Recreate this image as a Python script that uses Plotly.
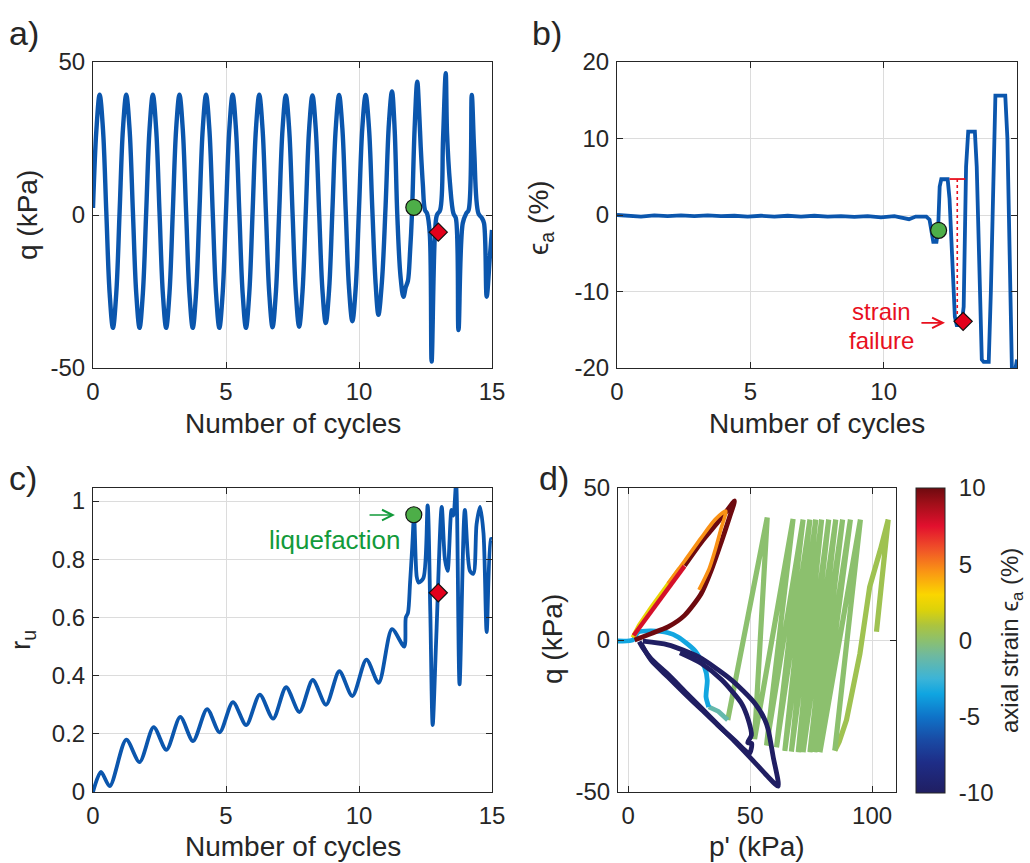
import plotly.graph_objects as go
from plotly.colors import sample_colorscale

FONT = "Liberation Sans, Arial, Helvetica, sans-serif"
INK = "#262626"
GRID = "#dcdcdc"
BLUE = "#0b56ad"
RED = "#e8101e"
GREEN_TXT = "#129a3a"
GREEN_DOT = "#4dae48"
RED_DOT = "#e3001b"

W, H = 1030, 863

# ---------------- a) deviator stress q vs number of cycles
cycles_q = [
    0.0, 0.125, 0.25, 0.375, 0.5, 0.625, 0.75, 0.875,
    1.0, 1.125, 1.25, 1.375, 1.5, 1.625, 1.75, 1.875,
    2.0, 2.125, 2.25, 2.375, 2.5, 2.625, 2.75, 2.875,
    3.0, 3.125, 3.25, 3.375, 3.5, 3.625, 3.75, 3.875,
    4.0, 4.125, 4.25, 4.375, 4.5, 4.625, 4.75, 4.875,
    5.0, 5.125, 5.25, 5.375, 5.5, 5.625, 5.75, 5.875,
    6.0, 6.125, 6.25, 6.375, 6.5, 6.625, 6.75, 6.875,
    7.0, 7.125, 7.25, 7.375, 7.5, 7.625, 7.75, 7.875,
    8.0, 8.125, 8.25, 8.375, 8.5, 8.625, 8.75, 8.875,
    9.0, 9.125, 9.25, 9.375, 9.5, 9.625, 9.75, 9.875,
    10.0, 10.125, 10.25, 10.375, 10.5, 10.625, 10.73, 10.86,
    11.0, 11.125, 11.24, 11.34, 11.44, 11.56, 11.67, 11.76, 11.84, 11.92,
    11.99, 12.09, 12.19, 12.27, 12.32, 12.40, 12.48, 12.56,
    12.66, 12.73, 12.85, 12.93, 13.05, 13.16, 13.26, 13.31, 13.42, 13.55,
    13.64, 13.74, 13.9, 14.03, 14.12, 14.24, 14.33, 14.49, 14.62,
    14.7, 14.8, 14.92, 15.0]
q_kpa = [
    2.3, 27.5, 39.3, 28.0, 1.0, -25.5, -36.9, -25.5,
    1.0, 28.0, 39.3, 28.0, 1.0, -25.5, -36.9, -25.5,
    1.0, 28.0, 39.3, 28.0, 1.0, -25.5, -36.9, -25.5,
    1.0, 28.0, 39.3, 28.0, 1.0, -25.5, -36.9, -25.5,
    1.0, 28.0, 39.3, 28.0, 1.0, -25.5, -36.9, -25.5,
    1.0, 28.0, 39.3, 28.0, 1.0, -25.5, -36.9, -25.5,
    1.0, 28.0, 39.3, 28.0, 1.0, -25.5, -36.7, -25.4,
    1.0, 28.0, 39.1, 28.0, 1.0, -25.3, -36.5, -25.2,
    1.0, 28.0, 39.1, 28.0, 1.2, -24.5, -35.3, -24.5,
    1.5, 28.2, 39.2, 28.2, 1.5, -24.0, -34.7, -24.0,
    2.0, 28.5, 39.2, 28.5, 2.0, -22.5, -32.6, -22.0,
    3.0, 30.0, 40.4, 28.0, 0.0, -20.0, -26.7, -23.5, -21.5, -12.0,
    0.0, 28.0, 43.6, 32.1, 22.3, 10.0, 1.6, 0.5,
    -6.0, -47.9, -7.1, 0.0, 1.6, 25.0, 46.3, 26.7, 10.4, 0.5,
    -1.0, -37.6, -2.7, 0.5, 1.6, 39.2, 21.2, 0.5, -1.0,
    -2.7, -26.7, -13.6, -4.9]

# ---------------- b) axial strain vs number of cycles
cycles_eps = [0.0, 0.45, 0.9, 1.4, 1.9, 2.4, 2.9, 3.4, 3.9, 4.4, 4.9, 5.4, 5.9,
              6.4, 6.9, 7.4, 7.9, 8.4, 8.9, 9.4, 9.9, 10.4, 10.8, 10.95, 11.2,
              11.6, 11.72, 11.8, 11.86, 11.98, 12.04, 12.1, 12.16, 12.4, 12.47,
              12.67, 12.74, 12.92, 13.0, 13.09, 13.17, 13.42, 13.49, 13.68,
              13.75, 13.94, 14.02, 14.19, 14.56, 14.64, 14.81, 14.93, 15.0]
eps_a = [0.0, -0.05, -0.2, -0.05, -0.15, -0.05, -0.15, -0.05, -0.15, -0.1,
         -0.2, -0.1, -0.2, -0.1, -0.2, -0.1, -0.2, -0.15, -0.25, -0.15, -0.3,
         -0.15, -0.5, -0.55, -0.2, -0.2, -0.6, -2.5, -3.5, -3.5, -2.0, 3.7,
         4.67, 4.67, 2.1, -13.3, -14.4, -14.4, -12.0, 6.3, 10.9, 10.9, 6.3,
         -18.9, -19.2, -19.2, -10.0, 15.6, 15.6, 10.0, -20.3, -20.3, -18.9]

# strain-failure reference lines
fail_top_cycles = [12.47, 13.06]
fail_top_eps = [4.7, 4.7]
fail_drop_cycles = [12.76, 12.76]
fail_drop_eps = [4.7, -13.2]

# ---------------- c) excess pore pressure ratio vs number of cycles
cycles_ru = [0.0, 0.3, 0.63, 1.25, 1.75, 2.28, 2.76, 3.28, 3.76, 4.29, 4.76,
             5.26, 5.76, 6.27, 6.77, 7.26, 7.76, 8.26, 8.76, 9.26, 9.75, 10.28,
             10.74, 11.24, 11.7, 11.76, 11.84, 11.92, 12.0, 12.07, 12.17, 12.24,
             12.42, 12.58, 12.68, 12.77, 12.9, 13.11, 13.23, 13.33, 13.48,
             13.55, 13.65, 13.78, 13.98, 14.17, 14.3, 14.42, 14.55, 14.68,
             14.8, 14.96, 15.0]
r_u = [0.0, 0.069, 0.02, 0.18, 0.103, 0.223, 0.145, 0.258, 0.175, 0.285,
       0.205, 0.309, 0.23, 0.335, 0.252, 0.36, 0.275, 0.385, 0.30, 0.415,
       0.33, 0.455, 0.375, 0.56, 0.50, 0.60, 0.615, 0.72, 0.84, 0.95, 0.74,
       0.72, 0.735, 0.985, 0.62, 0.23, 0.52, 0.98, 0.80, 0.76, 0.97, 0.95,
       1.06, 0.37, 0.97, 0.76, 0.75, 0.92, 0.98, 0.89, 0.55, 0.87, 0.87]

# event markers: liquefaction (circle) and strain failure (diamond)
liq_cycle = [12.06]
fail_cycle = [12.98]
liq_q, fail_q = [2.5], [-5.6]
liq_eps, fail_eps = [-2.0], [-13.9]
liq_ru, fail_ru = [0.953], [0.685]

# ---------------- d) effective stress path, coloured by axial strain (%)
p_start = [101.8, 106.6, 103.5, 99.0, 95.0, 89.5, 86.5, 84.7]
q_start = [2.7, 39.6, 30.0, 17.4, -4.5, -26.3, -33.5, -36.4]
eps_start = 0.6

p_cyclic = [84.7, 95.2, 78.6, 91.1, 76.5, 87.9, 74.5, 85.1, 71.7, 82.2, 69.7,
            79.3, 66.9, 76.9, 64.2, 74.5, 60.8, 71.7, 56.7, 67.6, 51.8, 57.0,
            40.8]
q_cyclic = [-36.4, 39.6, -36.9, 39.6, -36.9, 39.6, -36.9, 39.6, -36.9, 39.6,
            -36.9, 39.6, -36.7, 39.6, -36.5, 39.6, -35.3, 39.6, -34.7, 39.8,
            -32.6, 40.3, -26.3]
eps_cyclic = 0.0

p_teal = [40.8, 37.0, 33.0]
q_teal = [-26.3, -23.5, -22.0]
eps_teal = -1.3

p_cyan = [33.0, 31.9, 32.4, 31.3, 27.2, 20.4, 16.3, 9.4, 4.0, 1.9, -5.0]
q_cyan = [-22.0, -18.7, -13.2, -8.9, -3.4, 1.0, 2.4, 3.0, 2.6, 0.0, -0.3]
eps_cyan = -3.4

p_yellow = [1.9, 4.5, 9.4, 16.3, 21.0]
q_yellow = [0.8, 4.8, 10.6, 18.4, 23.4]
eps_yellow = 2.4

p_orange = [16.3, 23.1, 29.9, 35.6, 40.0, 38.0, 35.8, 33.2, 29.0]
q_orange = [18.6, 26.0, 33.6, 39.6, 42.4, 36.5, 30.0, 23.5, 16.5]
eps_orange = 4.6

p_navy_outer = [4.5, 6.0, 9.4, 16.3, 23.1, 29.9, 36.7, 43.6, 50.4, 57.2, 61.5,
                59.4, 57.4, 56.0, 51.9, 42.3, 28.7, 16.3, 6.0]
q_navy_outer = [-0.5, -2.6, -6.2, -11.3, -16.8, -22.3, -27.8, -33.3, -39.0,
                -44.9, -48.1, -38.3, -29.5, -26.2, -20.8, -13.1, -5.5, -1.6, -0.4]
eps_navy_outer = -14.5

p_navy_inner = [5.3, 9.4, 16.3, 23.1, 29.9, 36.7, 43.6, 49.7, 50.6, 49.0, 50.5,
                49.2, 46.4, 38.3, 30.0, 21.2]
q_navy_inner = [-1.2, -6.7, -12.2, -17.6, -22.8, -28.0, -33.0, -37.3, -34.0,
                -33.8, -31.3, -26.2, -20.8, -13.1, -7.7, -4.2]
eps_navy_inner = -19.0

p_darkred = [2.6, 9.4, 16.3, 23.1, 29.9, 34.0, 38.1, 41.5, 43.6, 40.0, 36.7,
             29.9, 23.1]
q_darkred = [0.0, 2.1, 4.3, 8.1, 15.2, 22.8, 32.1, 40.3, 45.8, 42.0, 38.7,
             32.1, 24.5]
eps_darkred = 11.0

p_red = [2.2, 9.4, 16.3, 23.1]
q_red = [1.5, 9.5, 17.2, 24.3]
eps_red = 7.8

STRAIN_SCALE = [
    [0.000, "rgb(32,30,98)"],
    [0.100, "rgb(30,45,135)"],
    [0.175, "rgb(25,75,165)"],
    [0.250, "rgb(15,115,200)"],
    [0.325, "rgb(15,165,225)"],
    [0.375, "rgb(60,180,215)"],
    [0.450, "rgb(110,185,160)"],
    [0.500, "rgb(140,192,110)"],
    [0.550, "rgb(172,196,62)"],
    [0.600, "rgb(220,210,10)"],
    [0.650, "rgb(250,214,0)"],
    [0.725, "rgb(250,150,20)"],
    [0.800, "rgb(240,82,40)"],
    [0.875, "rgb(226,16,46)"],
    [0.950, "rgb(160,15,25)"],
    [1.000, "rgb(110,10,15)"],
]
CMIN, CMAX = -10.0, 10.0


def strain_colour(e):
    f = (e - CMIN) / (CMAX - CMIN)
    f = min(max(f, 0.0), 1.0)
    return sample_colorscale(STRAIN_SCALE, [f])[0]


def dot(x, y, xa, ya, symbol, size, color):
    return go.Scatter(x=x, y=y, mode="markers", xaxis=xa, yaxis=ya,
                      marker=dict(symbol=symbol, size=size, color=color,
                                  line=dict(color="#111", width=1.2)))


fig = go.Figure()

# a)
fig.add_trace(go.Scatter(x=cycles_q, y=q_kpa, mode="lines",
                         line=dict(color=BLUE, width=4.4, shape="spline", smoothing=1.0),
                         xaxis="x", yaxis="y"))
fig.add_trace(dot(liq_cycle, liq_q, "x", "y", "circle", 16, GREEN_DOT))
fig.add_trace(dot(fail_cycle, fail_q, "x", "y", "diamond", 14, RED_DOT))

# b)
fig.add_trace(go.Scatter(x=cycles_eps, y=eps_a, mode="lines",
                         line=dict(color=BLUE, width=3.8),
                         xaxis="x2", yaxis="y2"))
fig.add_trace(go.Scatter(x=fail_top_cycles, y=fail_top_eps, mode="lines",
                         line=dict(color=RED, width=1.8), xaxis="x2", yaxis="y2"))
fig.add_trace(go.Scatter(x=fail_drop_cycles, y=fail_drop_eps, mode="lines",
                         line=dict(color=RED, width=1.6, dash="dot"),
                         xaxis="x2", yaxis="y2"))
fig.add_trace(dot(liq_cycle, liq_eps, "x2", "y2", "circle", 16, GREEN_DOT))
fig.add_trace(dot(fail_cycle, fail_eps, "x2", "y2", "diamond", 14, RED_DOT))

# c)
fig.add_trace(go.Scatter(x=cycles_ru, y=r_u, mode="lines",
                         line=dict(color=BLUE, width=3.8, shape="spline", smoothing=0.8),
                         xaxis="x3", yaxis="y3"))
fig.add_trace(dot(liq_cycle, liq_ru, "x3", "y3", "circle", 16, GREEN_DOT))
fig.add_trace(dot(fail_cycle, fail_ru, "x3", "y3", "diamond", 14, RED_DOT))

# d) stress path pieces, drawn in time order
paths = [
    (p_start, q_start, eps_start, "linear", 5.2),
    (p_cyclic, q_cyclic, eps_cyclic, "linear", 5.2),
    (p_teal, q_teal, eps_teal, "linear", 4.8),
    (p_cyan, q_cyan, eps_cyan, "spline", 4.8),
    (p_yellow, q_yellow, eps_yellow, "linear", 4.8),
    (p_navy_outer, q_navy_outer, eps_navy_outer, "spline", 4.8),
    (p_navy_inner, q_navy_inner, eps_navy_inner, "spline", 4.8),
    (p_darkred, q_darkred, eps_darkred, "spline", 4.8),
    (p_orange, q_orange, eps_orange, "spline", 3.6),
    (p_red, q_red, eps_red, "linear", 4.4),
]
for px_, qy_, e_, shp, wd in paths:
    fig.add_trace(go.Scatter(x=px_, y=qy_, mode="lines",
                             line=dict(color=strain_colour(e_), width=wd, shape=shp,
                                       smoothing=0.7),
                             xaxis="x4", yaxis="y4"))

# colour scale for axial strain
fig.add_trace(go.Scatter(
    x=[-100], y=[0], mode="markers", xaxis="x4", yaxis="y4",
    marker=dict(color=[0], colorscale=STRAIN_SCALE, cmin=CMIN, cmax=CMAX,
                showscale=True,
                colorbar=dict(x=916 / W, xanchor="left", y=1 - 640.5 / H,
                              yanchor="middle", len=305 / H, lenmode="fraction",
                              thickness=29, thicknessmode="pixels",
                              outlinewidth=1, outlinecolor=INK,
                              ticks="outside", ticklen=9, tickcolor="white",
                              tickvals=[-10, -5, 0, 5, 10],
                              ticktext=["-10", "-5", "0", "5", "10"],
                              tickfont=dict(size=24, color=INK, family=FONT),
                              xpad=0, ypad=0))))


def axis(domain, rng, tickvals, ticktext, anchor, standoff):
    return dict(domain=domain, range=rng, tickvals=tickvals, ticktext=ticktext,
                anchor=anchor, showline=True, linecolor=INK, linewidth=1,
                mirror="allticks", ticks="inside", ticklen=6, tickcolor=INK,
                tickwidth=1, showgrid=True, gridcolor=GRID, gridwidth=1,
                zeroline=False, fixedrange=True, automargin=False,
                ticklabelstandoff=standoff,
                tickfont=dict(size=24, color=INK, family=FONT))


cyc_ticks = [0, 5, 10, 15]
cyc_text = ["0", "5", "10", "15"]
xa = [93 / W, 492 / W]
xb = [617 / W, 1017 / W]
xd = [618 / W, 896 / W]
y_top = [1 - 368 / H, 1 - 62 / H]
y_bot = [1 - 792 / H, 1 - 488 / H]

fig.update_layout(
    template="none",
    width=W, height=H, margin=dict(l=0, r=0, t=0, b=0, pad=0, autoexpand=False),
    paper_bgcolor="white", plot_bgcolor="white", showlegend=False,
    font=dict(family=FONT, color=INK),
    xaxis=axis(xa, [0, 15], cyc_ticks, cyc_text, "y", 2),
    yaxis=axis(y_top, [-50, 50], [-50, 0, 50], ["-50", "0", "50"], "x", 2),
    xaxis2=axis(xb, [0, 15], cyc_ticks, cyc_text, "y2", 2),
    yaxis2=axis(y_top, [-20, 20], [-20, -10, 0, 10, 20],
                ["-20", "-10", "0", "10", "20"], "x2", 2),
    xaxis3=axis(xa, [0, 15], cyc_ticks, cyc_text, "y3", 2),
    yaxis3=axis(y_bot, [0, 1.045], [0, 0.2, 0.4, 0.6, 0.8, 1.0],
                ["0", "0.2", "0.4", "0.6", "0.8", "1"], "x3", 2),
    xaxis4=axis(xd, [-4.2, 109.8], [0, 50, 100], ["0", "50", "100"], "y4", 2),
    yaxis4=axis(y_bot, [-50, 50], [-50, 0, 50], ["-50", "0", "50"], "x4", 2),
)


def label(text, x, y, size=28, color=INK, angle=0, xanchor="center"):
    return dict(text=text, x=x / W, y=1 - y / H, xref="paper", yref="paper",
                showarrow=False, textangle=angle, xanchor=xanchor, yanchor="middle",
                font=dict(size=size, color=color, family=FONT))


def arrow(x0, x1, y, xref, yref, color):
    return dict(x=x1, y=y, ax=x0, ay=y, xref=xref, yref=yref, axref=xref,
                ayref=yref, text="", showarrow=True, arrowhead=5, arrowsize=1.3,
                arrowwidth=1.6, arrowcolor=color)


ann = [
    label("a)", 7, 33, size=34, xanchor="left"),
    label("b)", 530, 33, size=34, xanchor="left"),
    label("c)", 7, 478, size=34, xanchor="left"),
    label("d)", 537, 478, size=34, xanchor="left"),
    label("Number of cycles", 292.5, 423.5),
    label("Number of cycles", 817, 423.5),
    label("Number of cycles", 292.5, 846),
    label("p' (kPa)", 757, 846),
    label("q (kPa)", 28, 215, angle=-90),
    label("\u03f5<sub>a</sub> (%)", 540, 218, angle=-90),
    label("r<sub>u</sub>", 22, 640, angle=-90),
    label("q (kPa)", 552, 639, angle=-90),
    label("axial strain \u03f5<sub>a</sub> (%)", 1011, 641, size=24, angle=-90),
    label("strain", 881.7, 311.5, size=24, color=RED),
    label("failure", 881.7, 340.5, size=24, color=RED),
    label("liquefaction", 335, 540, size=26, color=GREEN_TXT),
    arrow(11.36, 12.3, -14.1, "x2", "y2", RED),
    arrow(10.34, 11.35, 0.952, "x3", "y3", GREEN_TXT),
]
fig.update_layout(annotations=ann)

fig.write_html("out.html")
